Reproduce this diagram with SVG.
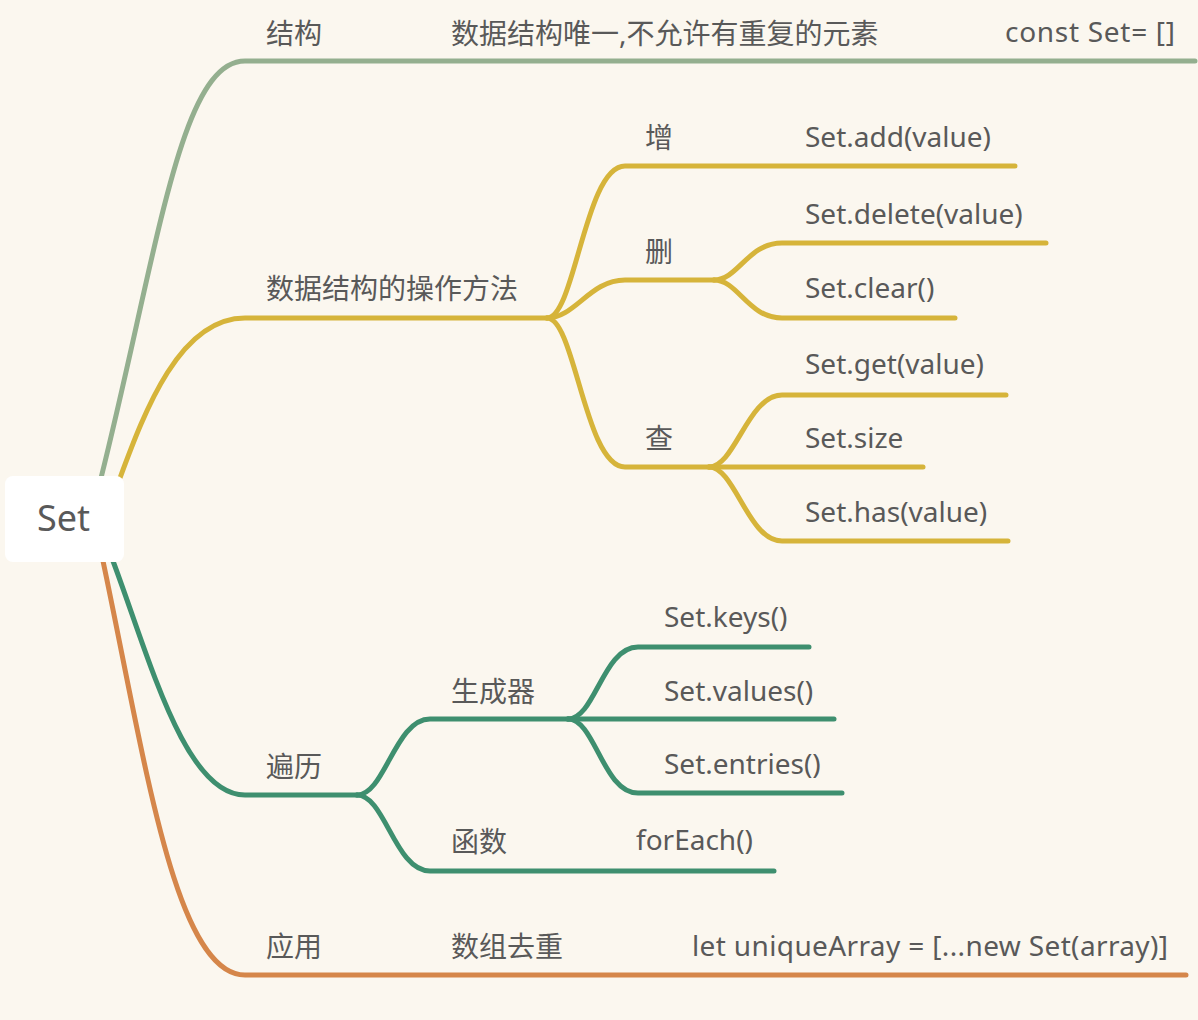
<svg xmlns="http://www.w3.org/2000/svg" width="1198" height="1020" viewBox="0 0 1198 1020">
<style>
.bg{fill:#FBF7EF}
.c{fill:none;stroke-width:5;stroke-linecap:round;stroke-linejoin:round}
.g1{stroke:#94AF8F}
.y{stroke:#D6B43A}
.t{stroke:#3E8F6F}
.o{stroke:#D5864A}
text{font-family:"Noto Sans","Noto Sans CJK SC",sans-serif;font-size:28px;fill:#595959}
.root{font-size:36px}
</style>
<rect class="bg" x="0" y="0" width="1198" height="1020"/>
<g id="connectors">
<path class="c g1" d="M101 478 C158 250 180 61 245 61 L1195 61"/>
<path class="c y" d="M120 478 C145 410 180 318 245 318 L547 318"/>
<path class="c y" d="M547 318 C575 318 585 166 625 166 L1015 166"/>
<path class="c y" d="M547 318 C575 318 590 280 625 280 L714 280"/>
<path class="c y" d="M714 280 C738 280 748 243 782 243 L1046 243"/>
<path class="c y" d="M714 280 C738 280 748 318 782 318 L955 318"/>
<path class="c y" d="M547 318 C575 318 585 467 625 467 L709 467"/>
<path class="c y" d="M709 467 C735 467 748 395 782 395 L1006 395"/>
<path class="c y" d="M709 467 L923 467"/>
<path class="c y" d="M709 467 C735 467 748 541 782 541 L1008 541"/>
<path class="c t" d="M113 561 C150 660 185 795 245 795 L357 795"/>
<path class="c t" d="M357 795 C385 795 395 719 430 719 L568 719"/>
<path class="c t" d="M568 719 C595 719 603 647 638 647 L809 647"/>
<path class="c t" d="M568 719 L834 719"/>
<path class="c t" d="M568 719 C595 719 603 793 638 793 L842 793"/>
<path class="c t" d="M357 795 C385 795 395 871 430 871 L774 871"/>
<path class="c o" d="M103 561 C145 760 175 975 245 975 L1186 975"/>
</g>
<g id="root"><rect x="5" y="476" width="119" height="86" rx="8" fill="#FFFFFF"/><text class="root" x="37" y="531">Set</text></g>
<g id="n-jiegou"><text x="266" y="44">结构</text></g>
<g id="n-jiegou-desc"><text x="451" y="44">数据结构唯一,不允许有重复的元素</text></g>
<g id="n-const"><text x="1005" y="42" textLength="170">const Set= []</text></g>
<g id="n-ops"><text x="266" y="299">数据结构的操作方法</text></g>
<g id="n-zeng"><text x="645" y="148">增</text></g>
<g id="n-add"><text x="805" y="147">Set.add(value)</text></g>
<g id="n-shan"><text x="645" y="262">删</text></g>
<g id="n-delete"><text x="805" y="224">Set.delete(value)</text></g>
<g id="n-clear"><text x="805" y="298">Set.clear()</text></g>
<g id="n-cha"><text x="645" y="449">查</text></g>
<g id="n-get"><text x="805" y="374">Set.get(value)</text></g>
<g id="n-size"><text x="805" y="448">Set.size</text></g>
<g id="n-has"><text x="805" y="522">Set.has(value)</text></g>
<g id="n-bianli"><text x="266" y="777">遍历</text></g>
<g id="n-gen"><text x="451" y="702">生成器</text></g>
<g id="n-keys"><text x="664" y="627">Set.keys()</text></g>
<g id="n-values"><text x="664" y="701">Set.values()</text></g>
<g id="n-entries"><text x="664" y="774">Set.entries()</text></g>
<g id="n-func"><text x="451" y="852">函数</text></g>
<g id="n-foreach"><text x="636" y="850">forEach()</text></g>
<g id="n-yingyong"><text x="266" y="957">应用</text></g>
<g id="n-dedupe"><text x="451" y="957">数组去重</text></g>
<g id="n-unique"><text x="692" y="956" textLength="476">let uniqueArray = [...new Set(array)]</text></g>
</svg>
